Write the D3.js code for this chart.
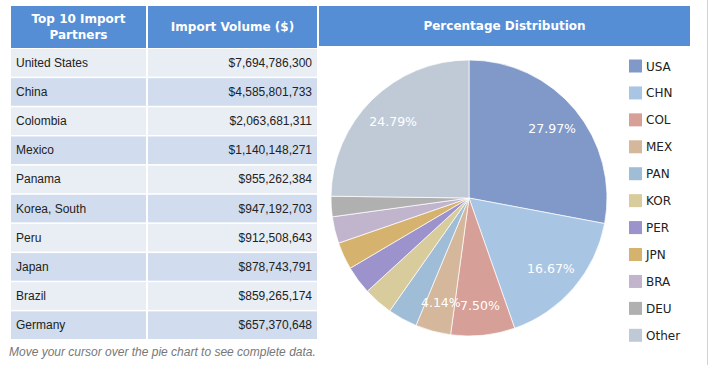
<!DOCTYPE html>
<html>
<head>
<meta charset="utf-8">
<script src="https://cdn.jsdelivr.net/npm/d3@7"></script>
<style>
  html, body { margin: 0; padding: 0; background: #ffffff; }
  svg { display: block; }
</style>
</head>
<body>
<svg id="chart" width="709" height="365"></svg>
<script>
// ---- data ----
const countries = ["United States", "China", "Colombia", "Mexico", "Panama", "Korea, South", "Peru", "Japan", "Brazil", "Germany"];
const codes = ["USA", "CHN", "COL", "MEX", "PAN", "KOR", "PER", "JPN", "BRA", "DEU", "Other"];
const importValues = [7694786300, 4585801733, 2063681311, 1140148271, 955262384, 947192703, 912508643, 878743791, 859265174, 657370648];
const otherValue = 6821000000;
const sliceColors = ["#8099c8", "#a9c5e4", "#d69f98", "#d5b79b", "#9fbdd7", "#d9cc9c", "#9c93cd", "#d6b26f", "#c1b4cd", "#b0b0b0", "#c0cad6"];
const headers = ["Top 10 Import|Partners", "Import Volume ($)", "Percentage Distribution"];
const footNote = "Move your cursor over the pie chart to see complete data.";

const svg = d3.select("#chart");
const headerBlue = "#558ed5";
const rowLight = "#e9edf4";
const rowDark = "#d1ddee";

// ---- table ----
const col1 = { x: 11, w: 135 };
const col2 = { x: 148, w: 169 };
const headerY = 6, headerH = 42;
const rowScale = d3.scaleBand().domain(d3.range(countries.length)).range([49, 49 + 29 * countries.length]).paddingInner(1.5 / 29).paddingOuter(0);

svg.append("rect").attr("x", col1.x).attr("y", headerY).attr("width", col1.w).attr("height", headerH).attr("fill", headerBlue);
svg.append("rect").attr("x", col2.x).attr("y", headerY).attr("width", col2.w).attr("height", headerH).attr("fill", headerBlue);

const hFont = "'DejaVu Sans', Verdana, sans-serif";
const h1 = headers[0].split("|");
svg.append("text").attr("x", col1.x + col1.w / 2).attr("y", 23).attr("text-anchor", "middle")
  .attr("font-family", hFont).attr("font-weight", "bold").attr("font-size", 12).attr("fill", "#fff").text(h1[0]);
svg.append("text").attr("x", col1.x + col1.w / 2).attr("y", 39).attr("text-anchor", "middle")
  .attr("font-family", hFont).attr("font-weight", "bold").attr("font-size", 12).attr("fill", "#fff").text(h1[1]);
svg.append("text").attr("x", col2.x + col2.w / 2).attr("y", 31).attr("text-anchor", "middle")
  .attr("font-family", hFont).attr("font-weight", "bold").attr("font-size", 12).attr("fill", "#fff").text(headers[1]);

const fmtMoney = d3.format("$,");
const rows = svg.append("g").selectAll("g").data(countries).join("g");
rows.append("rect").attr("x", col1.x).attr("y", (d, i) => rowScale(i)).attr("width", col1.w).attr("height", rowScale.bandwidth())
  .attr("fill", (d, i) => i % 2 === 0 ? rowLight : rowDark);
rows.append("rect").attr("x", col2.x).attr("y", (d, i) => rowScale(i)).attr("width", col2.w).attr("height", rowScale.bandwidth())
  .attr("fill", (d, i) => i % 2 === 0 ? rowLight : rowDark);
rows.append("text").attr("x", col1.x + 5).attr("y", (d, i) => rowScale(i) + rowScale.bandwidth() / 2 + 4)
  .attr("font-family", "'Liberation Sans', Arial, sans-serif").attr("font-size", 12).attr("fill", "#222").text(d => d);
rows.append("text").attr("x", col2.x + col2.w - 5).attr("y", (d, i) => rowScale(i) + rowScale.bandwidth() / 2 + 4)
  .attr("text-anchor", "end")
  .attr("font-family", "'Liberation Sans', Arial, sans-serif").attr("font-size", 12).attr("fill", "#222")
  .text((d, i) => fmtMoney(importValues[i]));

svg.append("text").attr("x", 9).attr("y", 356)
  .attr("font-family", "'Liberation Sans', Arial, sans-serif").attr("font-size", 12).attr("font-style", "italic")
  .attr("fill", "#777").text(footNote);

// ---- pie panel ----
svg.append("rect").attr("x", 319).attr("y", headerY).attr("width", 371).attr("height", 40).attr("fill", headerBlue);
svg.append("text").attr("x", 504.5).attr("y", 30).attr("text-anchor", "middle")
  .attr("font-family", hFont).attr("font-weight", "bold").attr("font-size", 12).attr("fill", "#fff").text(headers[2]);

svg.append("line").attr("x1", 707.5).attr("x2", 707.5).attr("y1", 0).attr("y2", 365)
  .attr("stroke", "#c5d5ea").attr("stroke-width", 1);

const pieData = codes.map((c, i) => ({ code: c, value: i < importValues.length ? importValues[i] : otherValue, color: sliceColors[i] }));
const total = d3.sum(pieData, d => d.value);
const cx = 469, cy = 198, r = 138;
const pie = d3.pie().sort(null).value(d => d.value);
const arcs = pie(pieData);
const arc = d3.arc().innerRadius(0).outerRadius(r);
const labelArc = d3.arc().innerRadius(108).outerRadius(108);

const pg = svg.append("g").attr("transform", `translate(${cx},${cy})`);
pg.selectAll("path").data(arcs).join("path")
  .attr("d", arc).attr("fill", d => d.data.color)
  .attr("stroke", "#ffffff").attr("stroke-width", 0.7);

const fmtPct = d3.format(".2f");
pg.selectAll("text").data(arcs.filter(d => d.data.value / total >= 0.04)).join("text")
  .attr("transform", d => `translate(${labelArc.centroid(d)})`)
  .attr("text-anchor", "middle").attr("dy", "0.35em")
  .attr("font-family", hFont).attr("font-size", 12.5).attr("fill", "#fff")
  .text(d => fmtPct(d.data.value / total * 100) + "%");

// ---- legend ----
const legendY = d3.scalePoint().domain(codes).range([66, 335.3]);
const lg = svg.append("g").selectAll("g").data(pieData).join("g");
lg.append("rect").attr("x", 629).attr("y", d => legendY(d.code) - 6.5).attr("width", 13).attr("height", 13).attr("fill", d => d.color);
lg.append("text").attr("x", 646).attr("y", d => legendY(d.code) + 4.5)
  .attr("font-family", hFont).attr("font-size", 12).attr("fill", "#222").text(d => d.code);
</script>
</body>
</html>
